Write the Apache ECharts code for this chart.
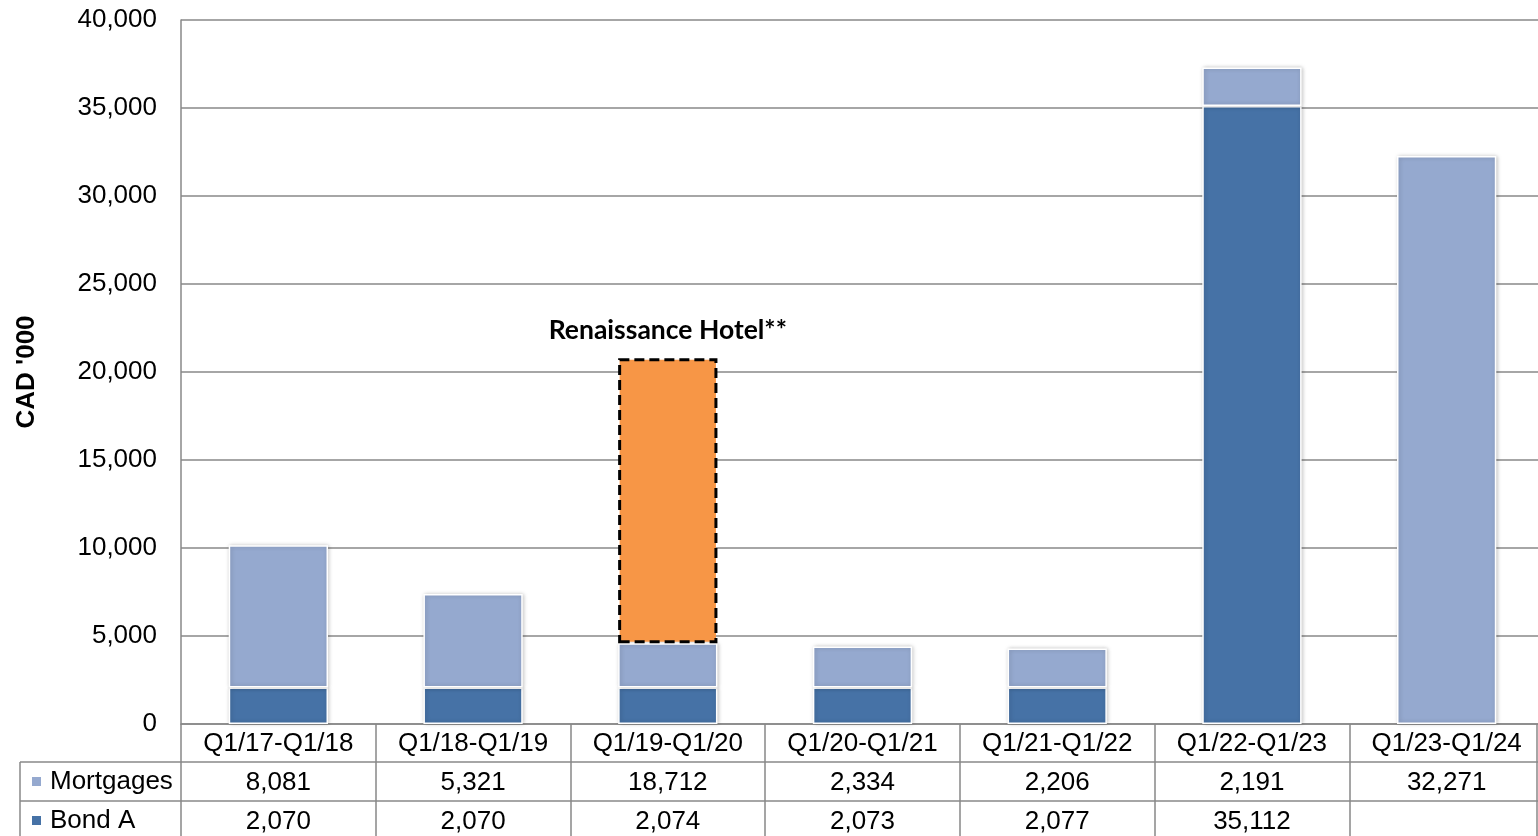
<!DOCTYPE html>
<html>
<head>
<meta charset="utf-8">
<script src="https://cdn.jsdelivr.net/npm/echarts@6/dist/echarts.min.js"></script>
<style>
html,body{margin:0;padding:0;background:#fff;}
#chart{width:1538px;height:836px;}
</style>
</head>
<body>
<div id="chart"></div>
<script>
const categories = ['Q1/17-Q1/18','Q1/18-Q1/19','Q1/19-Q1/20','Q1/20-Q1/21','Q1/21-Q1/22','Q1/22-Q1/23','Q1/23-Q1/24'];
const mortgages = [8081, 5321, 18712, 2334, 2206, 2191, 32271];
const bondA = [2070, 2070, 2074, 2073, 2077, 35112, null];
// part of the Mortgages value shown as the Renaissance Hotel box
const hotelPortion = [null, null, 16200, null, null, null, null];
const yMin = 0, yMax = 40000, yStep = 5000;

const mortgagesVisible = mortgages.map((v, i) => hotelPortion[i] != null ? v - hotelPortion[i] : v);
const fmt = v => (v == null ? '' : v.toLocaleString('en-US'));

const GRAY = '#888888';
const FONT = 'Liberation Sans, Arial, sans-serif';
const barShadow = { shadowBlur: 4, shadowColor: 'rgba(0,0,0,0.22)', shadowOffsetX: 1, shadowOffsetY: 0 };
const legendText = { fontSize: 26, color: '#000', lineHeight: 39, fontFamily: FONT, padding: [0, 0, 0, 3] };

const chart = echarts.init(document.getElementById('chart'));
chart.setOption({
  animation: false,
  textStyle: { fontFamily: FONT },
  grid: { left: 181, right: -6, top: 20, bottom: 112, containLabel: false, outerBoundsMode: 'none' },
  legend: [
    { orient: 'vertical', left: 30, top: 762, padding: 0, itemWidth: 11, itemHeight: 11, icon: 'rect',
      selectedMode: false, data: ['Mortgages'], textStyle: legendText },
    { orient: 'vertical', left: 30, top: 801, padding: 0, itemWidth: 11, itemHeight: 11, icon: 'rect',
      selectedMode: false, data: ['Bond A'], textStyle: legendText }
  ],
  xAxis: {
    type: 'category', data: categories, boundaryGap: true,
    axisLine: { lineStyle: { color: GRAY, width: 1.5 } },
    axisTick: { show: true, length: 112, interval: 0, alignWithLabel: false, lineStyle: { color: GRAY, width: 1.5 } },
    axisLabel: {
      interval: 0, margin: 0, color: '#000', fontSize: 26, lineHeight: 39, fontFamily: FONT,
      formatter: (val, i) => val + '\n' + fmt(mortgages[i]) + '\n' + fmt(bondA[i])
    }
  },
  yAxis: {
    type: 'value', min: yMin, max: yMax, interval: yStep,
    name: "CAD '000", nameLocation: 'middle', nameGap: 141, nameRotate: 90, nameMoveOverlap: false,
    nameTextStyle: { fontSize: 26, fontWeight: 'bold', color: '#000', fontFamily: FONT },
    axisLine: { show: true, lineStyle: { color: GRAY, width: 1.5 } },
    axisTick: { show: false },
    axisLabel: { margin: 24, fontSize: 26, color: '#000', fontFamily: FONT, formatter: v => v.toLocaleString('en-US') },
    splitLine: { lineStyle: { color: GRAY, width: 1.5 } }
  },
  series: [
    {
      name: 'Bond A', type: 'bar', stack: 'total', barWidth: '51%',
      data: bondA,
      itemStyle: Object.assign({ color: '#4672A6', borderColor: '#fff', borderWidth: 1.5 }, barShadow)
    },
    {
      name: 'Mortgages', type: 'bar', stack: 'total', barWidth: '51%',
      data: mortgagesVisible,
      itemStyle: Object.assign({ color: '#95A9CF', borderColor: '#fff', borderWidth: 1.5 }, barShadow)
    },
    {
      name: 'Renaissance Hotel', type: 'bar', stack: 'total', barWidth: '51%',
      data: hotelPortion,
      itemStyle: { color: '#F79646', borderColor: '#000', borderWidth: 3, borderType: [10, 5] },
      label: {
        show: true, position: 'top', distance: 14,
        formatter: 'Renaissance Hotel**',
        fontFamily: 'Lato, Open Sans, sans-serif', fontWeight: 'bold', fontSize: 26.5, color: '#000'
      }
    }
  ],
  graphic: [
    { type: 'line', shape: { x1: 20, y1: 762, x2: 1538, y2: 762 }, style: { stroke: GRAY, lineWidth: 1.5 } },
    { type: 'line', shape: { x1: 20, y1: 801, x2: 1538, y2: 801 }, style: { stroke: GRAY, lineWidth: 1.5 } },
    { type: 'line', shape: { x1: 20, y1: 762, x2: 20, y2: 836 }, style: { stroke: GRAY, lineWidth: 1.5 } },
    { type: 'line', shape: { x1: 1537, y1: 724, x2: 1537, y2: 836 }, style: { stroke: GRAY, lineWidth: 1.5 } }
  ]
});
</script>
</body>
</html>
